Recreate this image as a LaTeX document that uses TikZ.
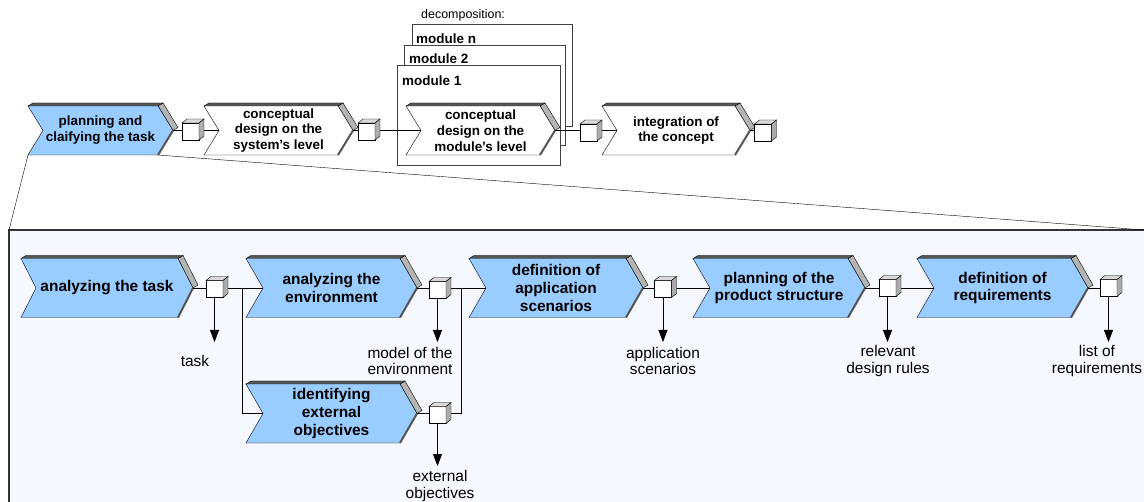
\documentclass[tikz,border=0pt]{standalone}
\usepackage{fontspec}
\setmainfont{Liberation Sans}
\usepackage{xcolor}
\usepackage{tikz}
\usetikzlibrary{arrows.meta}

\pgfdeclarelayer{back}
\pgfdeclarelayer{mid}
\pgfsetlayers{back,mid,main}

\definecolor{stepblue}{RGB}{153,204,255}
\definecolor{zoomfill}{RGB}{245,249,255}
\definecolor{slabgray}{RGB}{180,180,180}
\definecolor{edgegray}{RGB}{85,85,85}

% chevron outline round a (plain) node: node, notch depth, fill
\newcommand{\chevshape}[3]{%
  \begin{pgfonlayer}{mid}
    \coordinate (#1-in) at ([shift={(#2,0)}]#1.west);
    \filldraw[fill=slabgray] ([shift={(-#2,0)}]#1.north east) -- ++(5,-3)
      -- ([shift={(5,-3)}]#1.east) -- (#1.east) -- cycle;
    \filldraw[fill=edgegray] (#1.north west) -- ++(5,-3)
      -- ([shift={(-#2+5,-3)}]#1.north east) -- ([shift={(-#2,0)}]#1.north east) -- cycle;
    \filldraw[fill=#3] (#1.north west) -- ([shift={(-#2,0)}]#1.north east) -- (#1.east)
      -- ([shift={(-#2,0)}]#1.south east) -- (#1.south west) -- (#1-in) -- cycle;
    \draw[edgegray, line width=2bp] (#1.east) -- ([shift={(-#2,0)}]#1.south east);
  \end{pgfonlayer}}

% top and side face of a data cube
\newcommand{\cubefaces}[1]{%
  \filldraw[fill=gray!30] (#1.north west) -- ++(5,-4)
    -- ([shift={(5,-4)}]#1.north east) -- (#1.north east) -- cycle;
  \filldraw[fill=gray!65] (#1.north east) -- ++(5,-4)
    -- ([shift={(5,-4)}]#1.south east) -- (#1.south east) -- cycle;}

\tikzset{
  bigstep/.style={rectangle, inner sep=0pt, outer sep=0pt, minimum height=59bp,
    align=center, font=\fontsize{15.5}{18}\selectfont\bfseries},
  smallstep/.style={rectangle, inner sep=0pt, outer sep=0pt, minimum height=49bp,
    align=center, font=\fontsize{13.5}{16}\selectfont\bfseries},
  datacube/.style={draw, fill=white, minimum size=17bp, inner sep=0pt, outer sep=0pt},
  result/.style={align=center, inner sep=0pt, font=\fontsize{15.5}{17}\selectfont},
  modlabel/.style={anchor=west, inner sep=0pt, font=\fontsize{13.5}{16}\selectfont\bfseries},
  modframe/.style={draw=black!75, fill=white, line width=1bp},
  flow/.style={-{Triangle[length=12bp,width=9bp]}},
}

\begin{document}
\begin{tikzpicture}[x=1bp, y=-1bp, line width=1bp]
    \useasboundingbox (0,0) rectangle (1144,502);
    %
    % top row
    \node[smallstep, minimum width=145bp] (plan) at (100.5,130.5) {planning and\\claifying the task};
    \node[smallstep, minimum width=149bp] (sysdes) at (278.5,130.5) {conceptual\\design on the\\system’s level};
    \node[smallstep, minimum width=149bp] (moddes) at (480.5,130.5) {conceptual\\design on the\\module’s level};
    \node[smallstep, minimum width=148bp] (integ) at (676,130.5) {integration of\\the concept};
    \chevshape{plan}{15}{stepblue}
    \chevshape{sysdes}{15}{white}
    \chevshape{moddes}{15}{white}
    \chevshape{integ}{15}{white}
    %
    \node[datacube] (planOut) at (190.5,131.5) {};
    \node[datacube] (sysdesOut) at (366.5,131.5) {};
    \node[datacube] (moddesOut) at (588.5,132.5) {};
    \node[datacube] (integOut) at (763,132.5) {};
    %
    % decomposition frames
    \node[anchor=west, inner sep=0pt, font=\fontsize{12.5}{15}\selectfont] (decomp) at (421,15) {decomposition:};
    \node[modlabel] (modN) at (416,39) {module n};
    \node[modlabel] (modTwo) at (409,59) {module 2};
    \node[modlabel] (modOne) at (402,81) {module 1};
    \begin{pgfonlayer}{back}
      \draw[modframe] (412,25) rectangle (572,127);
      \draw[modframe] (404,46) rectangle (565,146);
      \draw[modframe] (397,66) rectangle (560,166);
    \end{pgfonlayer}
    %
    % bottom row (detail of the first step)
    \node[bigstep, minimum width=172bp] (task) at (107,288) {analyzing the task};
    \node[bigstep, minimum width=171bp] (env) at (331.5,288) {analyzing the\\environment};
    \node[bigstep, minimum width=171bp] (obj) at (331.5,413.5) {identifying\\external\\objectives};
    \node[bigstep, minimum width=174bp] (scen) at (556,288) {definition of\\application\\scenarios};
    \node[bigstep, minimum width=172bp] (struct) at (779,288) {planning of the\\product structure};
    \node[bigstep, minimum width=171bp] (req) at (1002.5,288) {definition of\\requirements};
    \chevshape{task}{15}{stepblue}
    \chevshape{env}{17}{stepblue}
    \chevshape{obj}{17}{stepblue}
    \chevshape{scen}{17}{stepblue}
    \chevshape{struct}{17}{stepblue}
    \chevshape{req}{17}{stepblue}
    %
    \node[datacube] (taskOut) at (214.5,289) {};
    \node[datacube] (envOut) at (437.5,290) {};
    \node[datacube] (objOut) at (437.5,415) {};
    \node[datacube] (scenOut) at (663,289) {};
    \node[datacube] (structOut) at (887.5,288) {};
    \node[datacube] (reqOut) at (1108.5,288) {};
    %
    \node[result] (taskLbl) at (195,361) {task};
    \node[result] (envLbl) at (410,361) {model of the\\environment};
    \node[result] (objLbl) at (440,486) {external\\objectives};
    \node[result] (scenLbl) at (663,361) {application\\scenarios};
    \node[result] (structLbl) at (888,361) {relevant\\design rules};
    \node[result] (reqLbl) at (1097,361) {list of\\requirements};
    %
    \coordinate (zoomL) at (9,230);
    \coordinate (zoomR) at (1144,230);
    \coordinate (fork1) at (242,0);
    \coordinate (fork2) at (461,0);
    \coordinate (arrowrow) at (0,342);
    \coordinate (arrowrowB) at (0,466);
    %
    \begin{pgfonlayer}{back}
      \draw[black!80, line width=1.5bp, fill=zoomfill] (zoomL) rectangle (1160,520);
      \draw (plan.south west) -- (zoomL);
      \draw ([shift={(-15,0)}]plan.south east) -- (zoomR);
    \end{pgfonlayer}
    %
    \begin{pgfonlayer}{mid}
      % horizontal flow, top row
      \draw (plan.east) -- (planOut.west |- plan.east);
      \draw (planOut.east |- sysdes-in) -- (sysdes-in);
      \draw (sysdes.east) -- (sysdesOut.west |- sysdes.east);
      \draw (sysdesOut.east |- moddes-in) -- (moddes-in);
      \draw (moddes.east) -- (moddesOut.west |- moddes.east);
      \draw (moddesOut.east |- integ-in) -- (integ-in);
      \draw (integ.east) -- (integOut.west |- integ.east);
      % horizontal flow, bottom row
      \draw (task.east) -- (taskOut.west |- task.east);
      \draw (taskOut.east |- env-in) -- (env-in);
      \draw (fork1 |- env-in) |- (obj-in);
      \draw (env.east) -- (envOut.west |- env.east);
      \draw (envOut.east |- scen-in) -- (scen-in);
      \draw (obj.east) -- (objOut.west |- obj.east);
      \draw (objOut.east |- obj.east) -| (fork2 |- scen-in);
      \draw (scen.east) -- (scenOut.west |- scen.east);
      \draw (scenOut.east |- struct-in) -- (struct-in);
      \draw (struct.east) -- (structOut.west |- struct.east);
      \draw (structOut.east |- req-in) -- (req-in);
      \draw (req.east) -- (reqOut.west |- req.east);
      % results
      \draw[flow] (taskOut.south) -- (taskOut.south |- arrowrow);
      \draw[flow] (envOut.south) -- (envOut.south |- arrowrow);
      \draw[flow] (objOut.south) -- (objOut.south |- arrowrowB);
      \draw[flow] (scenOut.south) -- (scenOut.south |- arrowrow);
      \draw[flow] (structOut.south) -- (structOut.south |- arrowrow);
      \draw[flow] (reqOut.south) -- (reqOut.south |- arrowrow);
    \end{pgfonlayer}
    %
    \cubefaces{planOut}
    \cubefaces{sysdesOut}
    \cubefaces{moddesOut}
    \cubefaces{integOut}
    \cubefaces{taskOut}
    \cubefaces{envOut}
    \cubefaces{objOut}
    \cubefaces{scenOut}
    \cubefaces{structOut}
    \cubefaces{reqOut}
\end{tikzpicture}
\end{document}
